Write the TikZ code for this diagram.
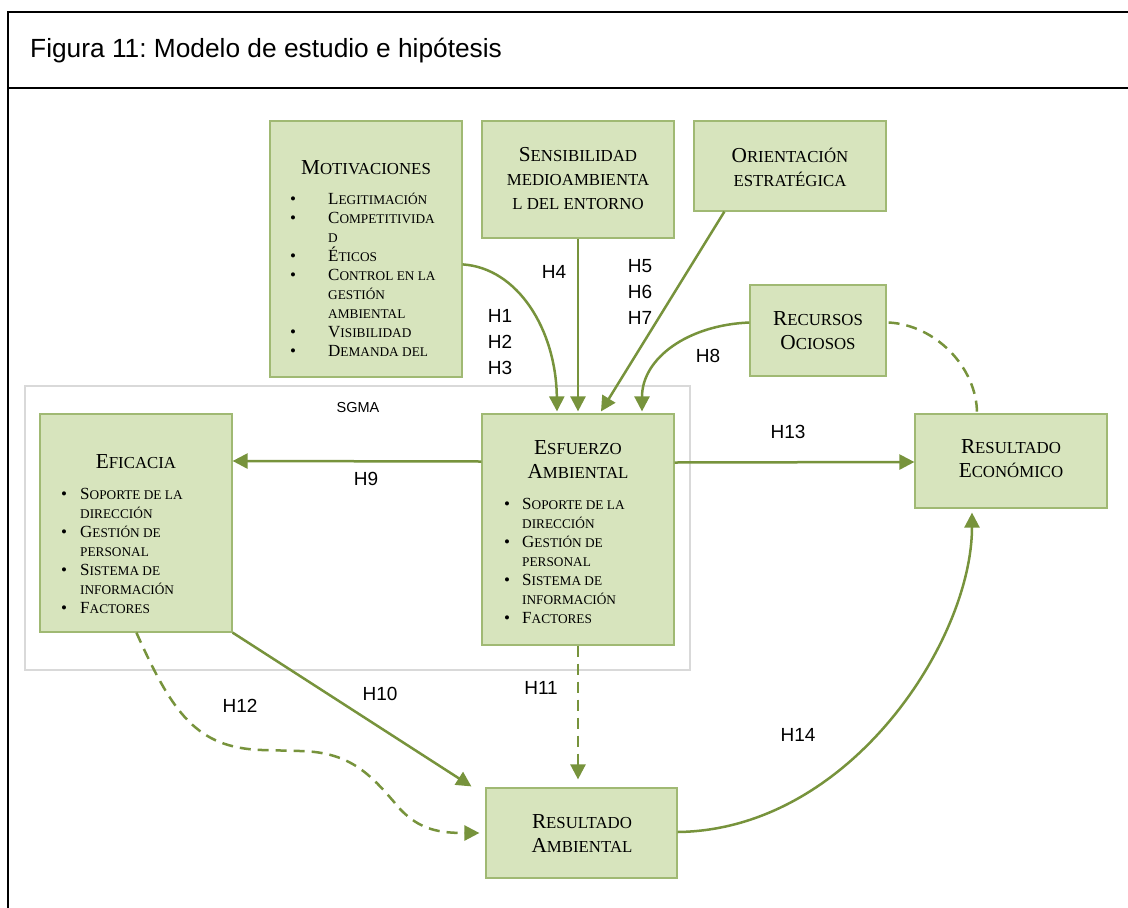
\documentclass[tikz,border=0pt]{standalone}
\usepackage{fontspec}
\setmainfont{Liberation Serif}
\newfontfamily\arialfont{Liberation Sans}
\usetikzlibrary{arrows.meta,calc}
\frenchspacing

\definecolor{boxfill}{RGB}{215,228,189}
\definecolor{boxline}{RGB}{160,185,115}
\definecolor{olive}{RGB}{119,147,60}
\definecolor{framegrey}{RGB}{217,217,217}

% faked small capitals: capital letter at full size, the rest reduced
\newcommand\ts[1]{{\fontsize{16.8}{24}\selectfont #1}}
\newcommand\ls[1]{{\fontsize{13.3}{19}\selectfont #1}}
\newcommand\bul[1]{\makebox[#1][l]{\fontsize{17}{19}\selectfont\textbullet}}

\tikzset{
  box/.style={draw=boxline, line width=1.2pt, fill=boxfill, rectangle, inner sep=0pt},
  ttl/.style={align=center, font=\fontsize{21.3}{24}\selectfont, inner sep=0pt},
  lst/.style={align=left, font=\fontsize{17}{19}\selectfont, inner sep=0pt, anchor=north west},
  hyp/.style={font=\arialfont\fontsize{19}{26}\selectfont, inner sep=0pt, align=left},
  link/.style={draw=olive, line width=2.5pt, -{Triangle[length=15pt,width=15pt]}},
  dlink/.style={link, dash pattern=on 11pt off 7pt},
}

\begin{document}
\begin{tikzpicture}[x=1pt,y=-1pt]
\useasboundingbox (0,0) rectangle (1128,908);
\clip (0,0) rectangle (1128,908);

% outer frame with caption row
\draw[line width=2.5pt] (8,12) rectangle (1160,940);
\draw[line width=2.5pt] (8,88) -- (1160,88);
\node[font=\arialfont\fontsize{26.3}{30}\selectfont, anchor=west, inner sep=0pt] (cap) at (30,51) {Figura 11: Modelo de estudio e hipótesis};

% SGMA frame
\draw[framegrey, line width=2pt] (25,386) rectangle (690,670);
\node[font=\arialfont\fontsize{14.5}{16}\selectfont, inner sep=0pt] (sgma) at (358,408) {SGMA};

% boxes
\node[box, minimum width=192pt, minimum height=256pt] (mot) at (366,249) {};
\node[box, minimum width=192pt, minimum height=117pt] (sen) at (578,179.5) {};
\node[box, minimum width=192pt, minimum height=90pt] (ori) at (790,166) {};
\node[box, minimum width=136pt, minimum height=91pt] (rec) at (818,330.5) {};
\node[box, minimum width=192pt, minimum height=218pt] (efi) at (136,523) {};
\node[box, minimum width=192pt, minimum height=231pt] (esf) at (578,529.5) {};
\node[box, minimum width=192pt, minimum height=94pt] (rec2) at (1011,461) {};
\node[box, minimum width=191pt, minimum height=90pt] (ramb) at (581.5,833) {};

% box texts
\node[ttl] (motT) at (366,168) {M\ts{OTIVACIONES}};
\node[lst] (motL) at (290,193) {%
\bul{38pt}L\ls{EGITIMACIÓN}\\
\bul{38pt}C\ls{OMPETITIVIDA}\\
\hspace*{38pt}\ls{D}\\
\bul{38pt}É\ls{TICOS}\\
\bul{38pt}C\ls{ONTROL EN LA}\\
\hspace*{38pt}\ls{GESTIÓN}\\
\hspace*{38pt}\ls{AMBIENTAL}\\
\bul{38pt}V\ls{ISIBILIDAD}\\
\bul{38pt}D\ls{EMANDA DEL}};

\node[ttl] (senT) at (578,179) {S\ts{ENSIBILIDAD}\\ \ts{MEDIOAMBIENTA}\\ \ts{L DEL ENTORNO}};
\node[ttl] (oriT) at (790,167) {O\ts{RIENTACIÓN}\\ \ts{ESTRATÉGICA}};
\node[ttl] (recT) at (818,331) {R\ts{ECURSOS}\\ O\ts{CIOSOS}};
\node[ttl] (rec2T) at (1011,459) {R\ts{ESULTADO}\\ E\ts{CONÓMICO}};
\node[ttl] (rambT) at (582,834) {R\ts{ESULTADO}\\ A\ts{MBIENTAL}};

\node[ttl] (efiT) at (136,462) {E\ts{FICACIA}};
\node[lst] (efiL) at (61,488) {%
\bul{19pt}S\ls{OPORTE DE LA}\\
\hspace*{19pt}\ls{DIRECCIÓN}\\
\bul{19pt}G\ls{ESTIÓN DE}\\
\hspace*{19pt}\ls{PERSONAL}\\
\bul{19pt}S\ls{ISTEMA DE}\\
\hspace*{19pt}\ls{INFORMACIÓN}\\
\bul{19pt}F\ls{ACTORES}};

\node[ttl] (esfT) at (578,460) {E\ts{SFUERZO}\\ A\ts{MBIENTAL}};
\node[lst] (esfL) at (504,498) {%
\bul{18pt}S\ls{OPORTE DE LA}\\
\hspace*{18pt}\ls{DIRECCIÓN}\\
\bul{18pt}G\ls{ESTIÓN DE}\\
\hspace*{18pt}\ls{PERSONAL}\\
\bul{18pt}S\ls{ISTEMA DE}\\
\hspace*{18pt}\ls{INFORMACIÓN}\\
\bul{18pt}F\ls{ACTORES}};

% connectors into the environmental effort box
\draw[link] ($(mot.north east)+(0,144)$) .. controls (518,268) and (556,330) .. ($(esf.north)+(-21,-2)$);
\draw[link] (sen.south) -- ($(esf.north)+(0,-2)$);
\draw[link] ($(ori.south west)+(31,0)$) -- ($(esf.north)+(23,-2)$);
\draw[link] ($(rec.west)+(0,-8)$) .. controls (688,325) and (642,358) .. ($(esf.north)+(64,-2)$);

% effort to efficacy and to economic result
\draw[link] ($(esf.west)+(0,-68)$) -- ($(efi.east)+(0,-62)$);
\draw[link] ($(esf.east)+(0,-67)$) -- ($(rec2.west)+(0,1)$);

% idle resources, dashed
\draw[olive, line width=2.5pt, dash pattern=on 11pt off 7pt] ($(rec.east)+(2,-8)$) .. controls (936,325) and (977,368) .. ($(rec2.north)+(-34,0)$);

% links to the environmental result
\draw[link] (efi.south east) -- ($(ramb.north west)+(-14,-1)$);
\draw[dlink] ($(efi.south west)+(97,0)$) .. controls (172,712) and (196,748) .. (262,750)
  -- (300,751) .. controls (352,752) and (372,776) .. (400,809)
  .. controls (420,830) and (440,833) .. ($(ramb.west)+(-6,0)$);
\draw[dlink] (esf.south) -- ($(ramb.north)+(-3.5,-8)$);

% environmental result to economic result
\draw[link] ($(ramb.east)+(0,-1)$) .. controls (850,830) and (972,640) .. ($(rec2.south)+(-39,4)$);

% hypothesis labels
\node[hyp] (h123) at (500,342) {H1\\H2\\H3};
\node[hyp] (h4) at (554,272) {H4};
\node[hyp] (h567) at (640,292) {H5\\H6\\H7};
\node[hyp] (h8) at (708,356) {H8};
\node[hyp] (h9) at (366,479) {H9};
\node[hyp] (h13) at (788,432) {H13};
\node[hyp] (h12) at (240,706) {H12};
\node[hyp] (h10) at (380,694) {H10};
\node[hyp] (h11) at (541,688) {H11};
\node[hyp] (h14) at (798,735) {H14};
\end{tikzpicture}
\end{document}
